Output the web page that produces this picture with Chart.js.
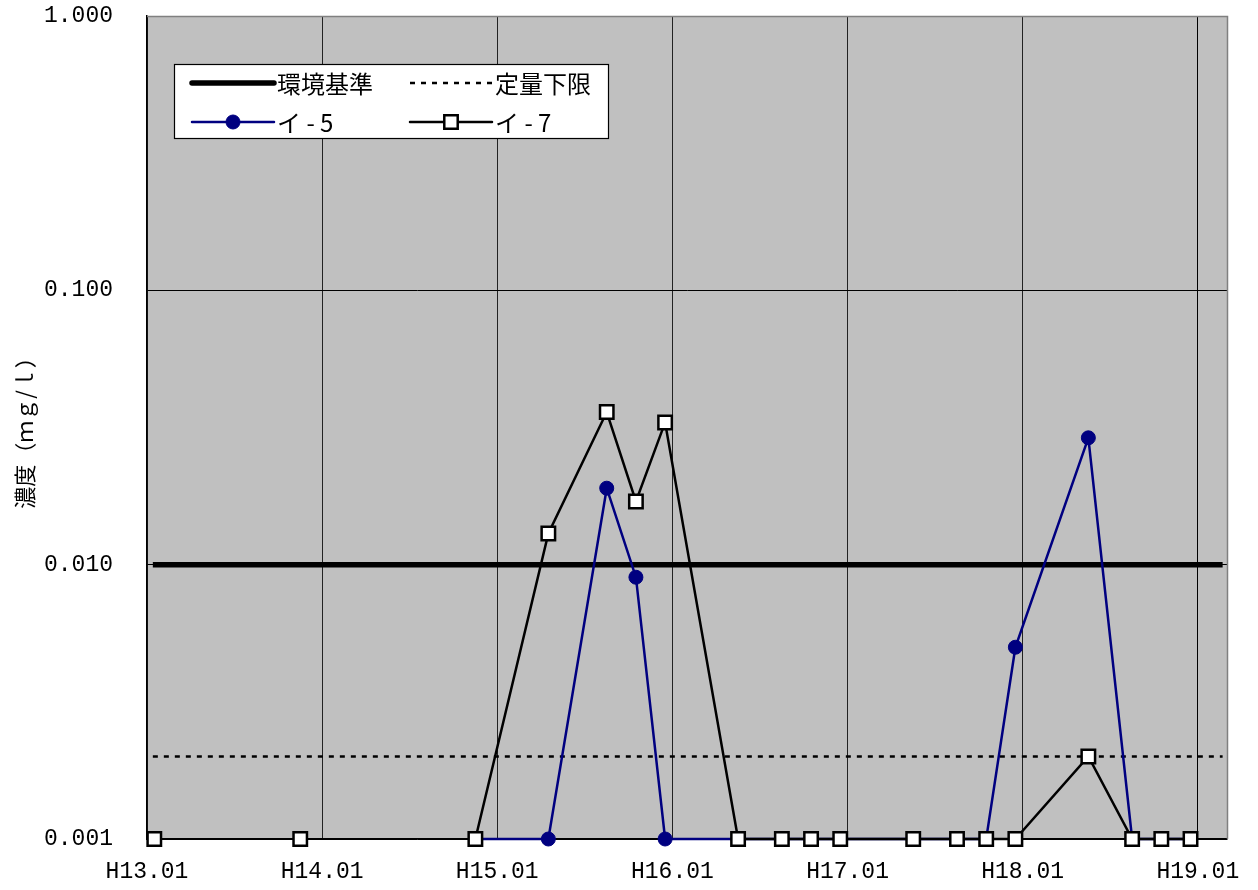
<!DOCTYPE html>
<html>
<head>
<meta charset="utf-8">
<script src="https://cdn.jsdelivr.net/npm/chart.js@4"></script>
<style>
  html, body { margin: 0; padding: 0; background: #fff; }
  #wrap { width: 1258px; height: 890px; position: relative; }
</style>
</head>
<body>
<div id="wrap"><canvas id="chart" width="1258" height="890"></canvas></div>
<script>
// Sampling dates, in months counted from H13.01
const sampleMonths = [0.5, 10.5, 22.5, 27.5, 31.5, 33.5, 35.5, 40.5, 43.5, 45.5, 47.5,
                      52.5, 55.5, 57.5, 59.5, 64.5, 67.5, 69.5, 71.5];
// Concentrations (mg/l) at each sampling date
const i5Values = [0.001, 0.001, 0.001, 0.001, 0.019, 0.009, 0.001, 0.001, 0.001, 0.001, 0.001,
                  0.001, 0.001, 0.001, 0.005, 0.029, 0.001, 0.001, 0.001];
const i7Values = [0.001, 0.001, 0.001, 0.013, 0.036, 0.017, 0.033, 0.001, 0.001, 0.001, 0.001,
                  0.001, 0.001, 0.001, 0.001, 0.002, 0.001, 0.001, 0.001];

// Reference levels (mg/l) and the months they span
const envStandard = 0.01;
const quantLimit = 0.002;
const refSpan = [0.4, 73.7];

// Axis ticks
const xTickMonths = [0, 12, 24, 36, 48, 60, 72];
const xTickLabels = ['H13.01', 'H14.01', 'H15.01', 'H16.01', 'H17.01', 'H18.01', 'H19.01'];
const yTicks = [0.001, 0.01, 0.1, 1];

// Samples further apart than this are not joined by a line
const maxJoinGap = 6;

const series = (vals) => sampleMonths.map((m, i) => ({ x: m, y: vals[i] }));
const gapSegment = (color) => ({
  borderColor: ctx => (ctx.p1.parsed.x - ctx.p0.parsed.x > maxJoinGap ? 'rgba(0,0,0,0)' : color)
});

const TICK_FONT = { family: "'Liberation Mono', 'DejaVu Sans Mono', monospace", size: 23 };
const CJK_FONT = "'Noto Sans CJK JP', 'Liberation Sans', sans-serif";

const noPadding = s => {
  s.paddingTop = 0; s.paddingBottom = 0; s.paddingLeft = 0; s.paddingRight = 0;
};

const plotBackground = {
  id: 'plotBackground',
  beforeDraw(chart) {
    const { ctx, chartArea: a } = chart;
    ctx.save();
    ctx.fillStyle = '#c0c0c0';
    ctx.fillRect(a.left, a.top, a.right - a.left, a.bottom - a.top);
    ctx.restore();
  },
  beforeDatasetsDraw(chart) {
    const { ctx, chartArea: a } = chart;
    ctx.save();
    ctx.strokeStyle = '#808080';
    ctx.lineWidth = 1.5;
    ctx.beginPath();
    ctx.moveTo(a.left, a.top + 0.5);
    ctx.lineTo(a.right + 0.5, a.top + 0.5);
    ctx.lineTo(a.right + 0.5, a.bottom);
    ctx.stroke();
    ctx.restore();
  }
};

const boxLegend = {
  id: 'boxLegend',
  afterDraw(chart) {
    const { ctx } = chart;
    const ds = chart.data.datasets;
    const byLabel = l => ds.find(d => d.label === l);
    const box = { x: 174.5, y: 64.5, w: 434, h: 74 };
    ctx.save();
    ctx.fillStyle = '#fff';
    ctx.fillRect(box.x, box.y, box.w, box.h);
    ctx.strokeStyle = '#000';
    ctx.lineWidth = 1.2;
    ctx.strokeRect(box.x, box.y, box.w, box.h);

    const cells = [
      { d: byLabel('環境基準'), x: 192, y: 83 },
      { d: byLabel('定量下限'), x: 410, y: 83 },
      { d: byLabel('イ - 5'), x: 192, y: 122 },
      { d: byLabel('イ - 7'), x: 410, y: 122 }
    ];
    const sampleLen = 82;
    cells.forEach(c => {
      const d = c.d;
      ctx.save();
      ctx.strokeStyle = d.borderColor;
      ctx.lineWidth = d.borderWidth;
      ctx.setLineDash(d.borderDash || []);
      ctx.lineCap = d.borderDash ? 'butt' : 'round';
      ctx.beginPath();
      ctx.moveTo(c.x, c.y);
      ctx.lineTo(c.x + sampleLen, c.y);
      ctx.stroke();
      ctx.restore();
      if (d.pointRadius > 0) {
        const cx = c.x + sampleLen / 2;
        ctx.save();
        ctx.fillStyle = d.pointBackgroundColor;
        ctx.strokeStyle = d.pointBorderColor;
        ctx.lineWidth = d.pointBorderWidth;
        ctx.beginPath();
        if (d.pointStyle === 'rect') {
          const s = Math.SQRT1_2 * d.pointRadius;
          ctx.rect(cx - s, c.y - s, 2 * s, 2 * s);
        } else {
          ctx.arc(cx, c.y, d.pointRadius, 0, Math.PI * 2);
        }
        ctx.fill();
        ctx.stroke();
        ctx.restore();
      }
      ctx.fillStyle = '#000';
      ctx.font = '24px ' + CJK_FONT;
      ctx.textBaseline = 'middle';
      ctx.textAlign = 'left';
      ctx.fillText(d.label, c.x + sampleLen + 3, c.y + 1);
    });
    ctx.restore();
  }
};

new Chart(document.getElementById('chart'), {
  type: 'line',
  data: {
    datasets: [
      {
        label: 'イ - 7',
        data: series(i7Values),
        borderColor: '#000',
        borderWidth: 2.5,
        pointStyle: 'rect',
        pointRadius: 9.5,
        pointBackgroundColor: '#fff',
        pointBorderColor: '#000',
        pointBorderWidth: 2.5,
        segment: gapSegment('#000'),
        clip: false
      },
      {
        label: 'イ - 5',
        data: series(i5Values),
        borderColor: '#000080',
        borderWidth: 2.5,
        pointStyle: 'circle',
        pointRadius: 7,
        pointBackgroundColor: '#000080',
        pointBorderColor: '#000080',
        pointBorderWidth: 1,
        segment: gapSegment('#000080'),
        clip: false
      },
      {
        label: '環境基準',
        data: refSpan.map(x => ({ x, y: envStandard })),
        borderColor: '#000',
        borderWidth: 5.5,
        pointRadius: 0,
        clip: false
      },
      {
        label: '定量下限',
        data: refSpan.map(x => ({ x, y: quantLimit })),
        borderColor: '#000',
        borderWidth: 2.5,
        borderDash: [5, 6],
        pointRadius: 0,
        clip: false
      }
    ]
  },
  options: {
    responsive: false,
    animation: false,
    events: [],
    layout: { padding: { top: 16, right: 31, left: 0, bottom: 0 } },
    plugins: { legend: { display: false }, tooltip: { enabled: false } },
    scales: {
      x: {
        type: 'linear',
        min: 0,
        max: 74,
        afterBuildTicks: s => { s.ticks = xTickMonths.map(v => ({ value: v })); },
        afterFit: s => { s.height = 51; noPadding(s); },
        ticks: {
          autoSkip: false,
          maxRotation: 0,
          padding: 19,
          color: '#000',
          font: TICK_FONT,
          callback: v => xTickLabels[xTickMonths.indexOf(v)]
        },
        grid: {
          drawTicks: false,
          lineWidth: 1,
          color: ctx => (ctx.tick && ctx.tick.value === 72 ? '#000' : '#222')
        },
        border: { display: true, color: '#000', width: 1.5 }
      },
      y: {
        type: 'logarithmic',
        min: 0.001,
        max: 1,
        afterBuildTicks: s => { s.ticks = yTicks.map(v => ({ value: v })); },
        afterFit: s => { s.width = 147; noPadding(s); },
        ticks: {
          padding: 34,
          color: '#000',
          font: TICK_FONT,
          callback: v => Number(v).toFixed(3)
        },
        grid: {
          drawTicks: false,
          lineWidth: 1,
          color: ctx => (ctx.tick && ctx.tick.value === 1 ? '#808080' : '#000')
        },
        border: { display: true, color: '#000', width: 1.5 },
        title: {
          display: true,
          text: '濃度（ｍｇ/ｌ）',
          color: '#000',
          font: { family: CJK_FONT, size: 22 },
          padding: { top: 11, bottom: 0 }
        }
      }
    }
  },
  plugins: [plotBackground, boxLegend]
});
</script>
</body>
</html>
